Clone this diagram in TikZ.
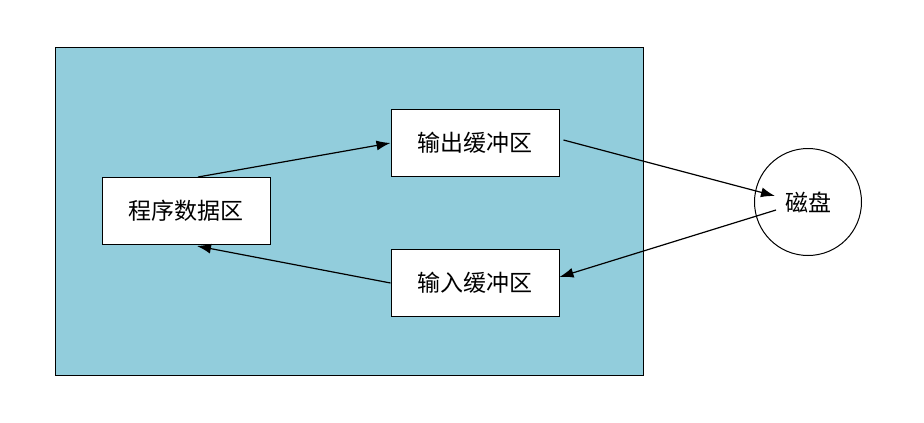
\documentclass[tikz,border=0pt]{standalone}
\usepackage{fontspec}
\newfontfamily\cjk{Noto Sans CJK SC}
\usetikzlibrary{arrows.meta,calc}
\definecolor{memblue}{HTML}{92CDDC}
\begin{document}
\begin{tikzpicture}[x=1pt,y=-1pt,
  box/.style={draw=black,line width=1pt,fill=white,minimum width=168pt,minimum height=67pt,inner sep=0pt,font=\cjk\fontsize{23}{26}\selectfont},
  arr/.style={line width=1.2pt,-{Latex[length=14pt,width=10pt]}}]
\useasboundingbox (0,0) rectangle (924,423);
\node[draw=black,line width=1pt,fill=memblue,minimum width=588pt,minimum height=328pt,inner sep=0pt] (mem) at (349,211) {};
\node[box] (prog) at (186,211) {程序数据区};
\node[box] (out) at (475,143) {输出缓冲区};
\node[box] (in) at (475,283) {输入缓冲区};
\node[draw=black,line width=1pt,circle,minimum size=107pt,inner sep=0pt,font=\cjk\fontsize{23}{26}\selectfont] (disk) at (808,202) {磁盘};
\draw[arr] ($(prog.north)+(12,0)$) -- (out.west);
\draw[arr] ($(out.east)+(4,-3)$) -- ($(disk.center)+(-33,-6)$);
\draw[arr] ($(disk.center)+(-32,8)$) -- ($(in.east)+(0,-6)$);
\draw[arr] (in.west) -- ($(prog.south)+(11,1)$);
\end{tikzpicture}
\end{document}
